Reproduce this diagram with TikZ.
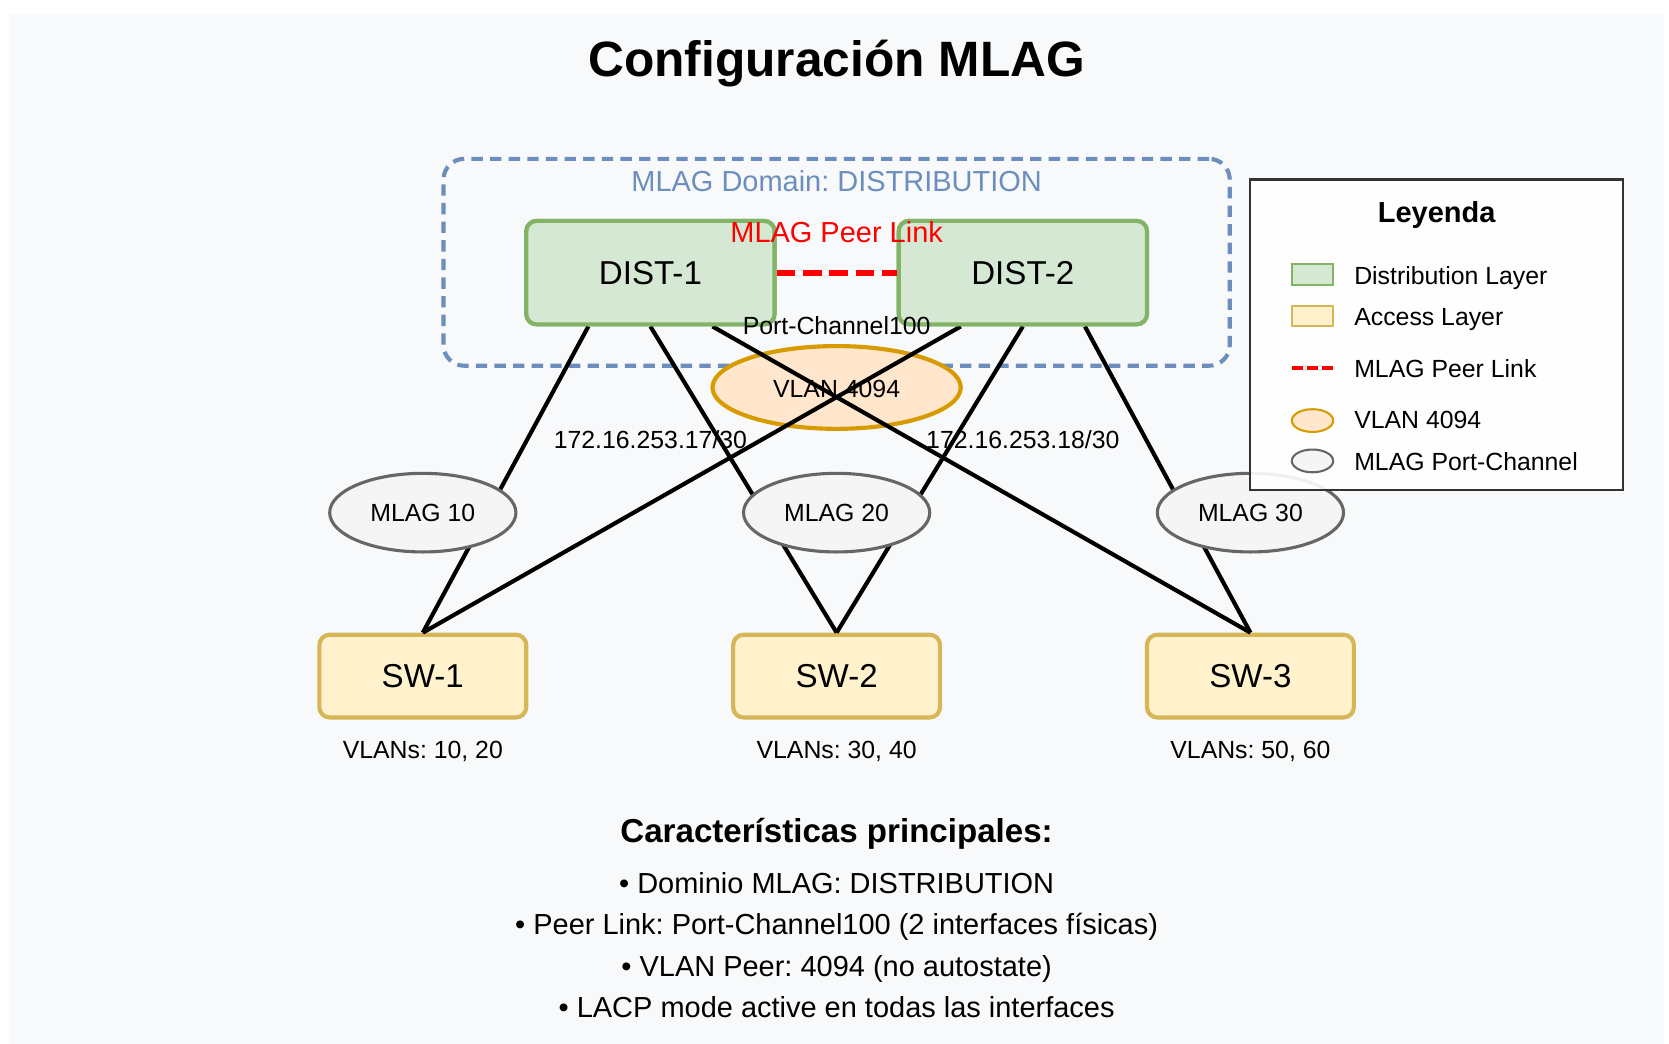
\documentclass[tikz,border=0pt]{standalone}
\usepackage{fontspec}
\setmainfont{Liberation Sans}
\usetikzlibrary{shapes.geometric,calc}
\frenchspacing
\definecolor{bgc}{HTML}{F8F9FA}
\definecolor{distfill}{HTML}{D5E8D4}
\definecolor{distline}{HTML}{82B366}
\definecolor{swfill}{HTML}{FFF2CC}
\definecolor{swline}{HTML}{D6B656}
\definecolor{vlanfill}{HTML}{FFE6CC}
\definecolor{vlanline}{HTML}{D79B00}
\definecolor{mlagfill}{HTML}{F5F5F5}
\definecolor{mlagline}{HTML}{666666}
\definecolor{domblue}{HTML}{6C8EBF}
\definecolor{legline}{HTML}{333333}
\definecolor{peerred}{HTML}{FF0000}
\tikzset{
  tt/.style={font=\fontsize{#1}{#1}\selectfont, inner sep=0pt},
  distbox/.style={draw=distline, fill=distfill, line width=2pt, rounded corners=5pt,
    minimum width=120pt, minimum height=50pt, inner sep=0pt, font=\fontsize{16}{16}\selectfont},
  swbox/.style={draw=swline, fill=swfill, line width=2pt, rounded corners=5pt,
    minimum width=100pt, minimum height=40pt, inner sep=0pt, font=\fontsize{16}{16}\selectfont},
  vlanell/.style={ellipse, draw=vlanline, fill=vlanfill, line width=2pt,
    minimum width=120pt, minimum height=40pt, inner sep=0pt},
  mlagell/.style={ellipse, draw=mlagline, fill=mlagfill, line width=1.5pt,
    minimum width=90pt, minimum height=38pt, inner sep=0pt, font=\fontsize{12}{12}\selectfont},
  conn/.style={draw=black, line width=2pt},
  peerlink/.style={draw=peerred, line width=3pt, dash pattern=on 9pt off 3.75pt},
  dombox/.style={draw=domblue, line width=2pt, rounded corners=10pt, dash pattern=on 5.5pt off 3.5pt,
    minimum width=380pt, minimum height=100pt, inner sep=0pt},
}
\begin{document}
\begin{tikzpicture}[x=1pt,y=-1pt]
\useasboundingbox (-4.35,-6.77) rectangle (802.3,497.8);
\fill[white] (-4.35,-6.77) rectangle (802.3,497.8);
\fill[bgc] (0,0) rectangle (800,497.8);

% title
\node[tt=24, font=\bfseries\fontsize{24}{24}\selectfont, anchor=base] (title) at (400,30) {Configuración MLAG};

% MLAG domain
\node[dombox] (dom) at (400,120) {};
\node[tt=14, text=domblue, anchor=base] (domlbl) at (400,86) {MLAG Domain: DISTRIBUTION};

% VLAN 4094
\node[vlanell] (vlan) at (400,180.5) {};
\node[tt=12, anchor=base] (vlanlbl) at (400,185.5) {VLAN 4094};

% IP labels
\node[tt=12, anchor=base] (ip1) at (310,210) {172.16.253.17/30};
\node[tt=12, anchor=base] (ip2) at (490,210) {172.16.253.18/30};

% nodes
\node[distbox] (d1) at (310,125) {};
\node[distbox] (d2) at (490,125) {};
\node[swbox] (s1) at (200,320) {SW-1};
\node[swbox] (s2) at (400,320) {SW-2};
\node[swbox] (s3) at (600,320) {SW-3};

% connectors
\draw[conn] ($(d1.south)+(-30,0)$) -- (s1.north);
\draw[conn] (d1.south) -- (s2.north);
\draw[conn] ($(d1.south)+(30,0)$) -- (s3.north);
\draw[conn] ($(d2.south)+(-30,0)$) -- (s1.north);
\draw[conn] (d2.south) -- (s2.north);
\draw[conn] ($(d2.south)+(30,0)$) -- (s3.north);

% redraw distribution boxes on top
\node[distbox] (d1b) at (310,125) {};
\node[distbox] (d2b) at (490,125) {};
\node[tt=16, anchor=base] (d1lbl) at (310,130.5) {DIST-1};
\node[tt=16, anchor=base] (d2lbl) at (490,130.5) {DIST-2};

% peer link
\draw[peerlink] (d1b.east) -- (d2b.west);
\node[tt=14, text=peerred, anchor=base] (peerlbl) at (400,110.5) {MLAG Peer Link};
\node[tt=12, anchor=base] (pclbl) at (400,155) {Port-Channel100};

% MLAG port-channels
\node[mlagell] (m1) at (200,241) {MLAG 10};
\node[mlagell] (m2) at (400,241) {MLAG 20};
\node[mlagell] (m3) at (600,241) {MLAG 30};

% VLAN labels
\node[tt=12, anchor=base] (v1) at (200,360) {VLANs: 10, 20};
\node[tt=12, anchor=base] (v2) at (400,360) {VLANs: 30, 40};
\node[tt=12, anchor=base] (v3) at (600,360) {VLANs: 50, 60};

% legend
\node[draw=legline, fill=white, fill opacity=0.9, line width=1pt, minimum width=180pt, minimum height=150pt, inner sep=0pt] (leg) at (690,155) {};
\node[tt=14, font=\bfseries\fontsize{14}{14}\selectfont, anchor=base] (legtitle) at (690,101) {Leyenda};
\node[draw=distline, fill=distfill, line width=1pt, minimum width=20pt, minimum height=10pt, inner sep=0pt] (lg1) at (630,126) {};
\node[tt=12, anchor=base west] (lt1) at (650,130.5) {Distribution Layer};
\node[draw=swline, fill=swfill, line width=1pt, minimum width=20pt, minimum height=10pt, inner sep=0pt] (lg2) at (630,146) {};
\node[tt=12, anchor=base west] (lt2) at (650,150.5) {Access Layer};
\coordinate (lg3a) at (620,171);
\coordinate (lg3b) at (640,171);
\draw[draw=peerred, line width=2pt, dash pattern=on 5.33pt off 2pt] (lg3a) -- (lg3b);
\node[tt=12, anchor=base west] (lt3) at (650,175.5) {MLAG Peer Link};
\node[ellipse, draw=vlanline, fill=vlanfill, line width=1pt, minimum width=20pt, minimum height=11pt, inner sep=0pt] (lg4) at (630,196.5) {};
\node[tt=12, anchor=base west] (lt4) at (650,200.5) {VLAN 4094};
\node[ellipse, draw=mlagline, fill=mlagfill, line width=1pt, minimum width=20pt, minimum height=11pt, inner sep=0pt] (lg5) at (630,216) {};
\node[tt=12, anchor=base west] (lt5) at (650,220.5) {MLAG Port-Channel};

% bottom text
\node[tt=16, font=\bfseries\fontsize{16}{16}\selectfont, anchor=base] (feat) at (400,400.5) {Características principales:};
\node[tt=14, anchor=base] (b1) at (400,425) {• Dominio MLAG: DISTRIBUTION};
\node[tt=14, anchor=base] (b2) at (400,445) {• Peer Link: Port-Channel100 (2 interfaces físicas)};
\node[tt=14, anchor=base] (b3) at (400,465) {• VLAN Peer: 4094 (no autostate)};
\node[tt=14, anchor=base] (b4) at (400,485) {• LACP mode active en todas las interfaces};
\end{tikzpicture}
\end{document}
